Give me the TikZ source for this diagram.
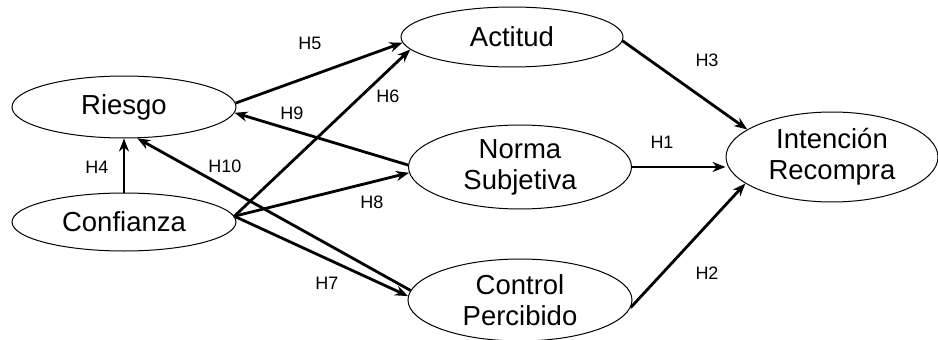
\documentclass[tikz,border=0pt]{standalone}
\usepackage{fontspec}
\setmainfont{Liberation Sans}
\usetikzlibrary{arrows.meta,shapes,positioning}
\tikzset{
  construct/.style={ellipse,draw,line width=1pt,inner sep=0pt,align=center,font=\fontsize{27.5}{31}\selectfont},
  hyp/.style={->,line width=2.8pt},
  hlabel/.style={font=\fontsize{18}{20}\selectfont,inner sep=0pt}
}

\begin{document}
\begin{tikzpicture}[x=1pt,y=-1pt,>={Stealth[length=13pt,width=10pt]}]
\useasboundingbox (0,0) rectangle (938,340);
%--------------------start constructs --------------------
	\node[construct,minimum width=224pt,minimum height=62pt] (riesgo) at (124,107) {Riesgo};
	\node[construct,minimum width=224pt,minimum height=58pt] (confianza) at (124,222) {Confianza};
	\node[construct,minimum width=222pt,minimum height=60pt] (actitud) at (512,37) {Actitud};
	\node[construct,minimum width=223pt,minimum height=84pt] (norma) at (520,167) {Norma\\Subjetiva};
	\node[construct,minimum width=224pt,minimum height=82pt] (control) at (520,300) {Control\\Percibido};
	\node[construct,minimum width=212pt,minimum height=90pt] (intencion) at (832,157) {Intención\\Recompra};
	
	%Hypotheses
	\draw[hyp] (riesgo.2) -- (actitud.183);
	\draw[hyp] (confianza.north) -- (riesgo.south);
	\draw[hyp] (confianza.3) -- (actitud.187);
	\draw[hyp] (confianza.3) -- (norma.183);
	\draw[hyp] (confianza.3) -- (control.178);
	\draw[hyp] (norma.179) -- (riesgo.-3);
	\draw[hyp] (control.175) -- (riesgo.-67);
	\draw[hyp] (actitud.-2) -- (intencion.162);
	\draw[hyp] (norma.east) -- (norma.east -| intencion.west);
	\draw[hyp] (control.-4) -- (intencion.197);
	
	%Labels
	\node[hlabel] (h1) at (662,142) {H1};
	\node[hlabel] (h2) at (707,273) {H2};
	\node[hlabel] (h3) at (707,60) {H3};
	\node[hlabel] (h4) at (97,167) {H4};
	\node[hlabel] (h5) at (310,43) {H5};
	\node[hlabel] (h6) at (388,96) {H6};
	\node[hlabel] (h7) at (327,283) {H7};
	\node[hlabel] (h8) at (372,202) {H8};
	\node[hlabel] (h9) at (292,113) {H9};
	\node[hlabel] (h10) at (225,166) {H10};
%-------------------------end constructs-----------------------
\end{tikzpicture}
\end{document}
